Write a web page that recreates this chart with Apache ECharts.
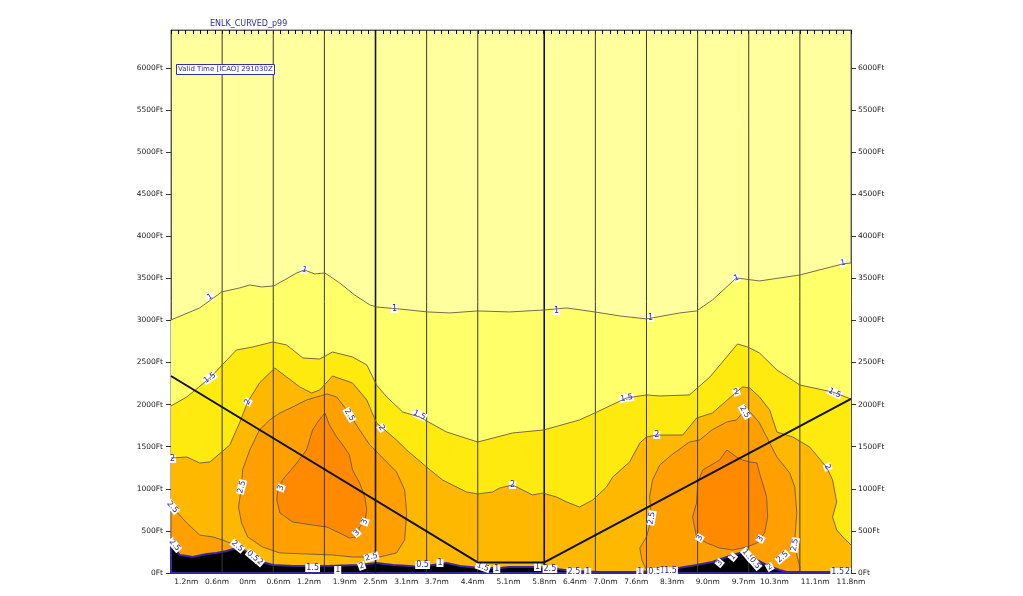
<!DOCTYPE html>
<html><head><meta charset="utf-8">
<script src="https://cdn.jsdelivr.net/npm/echarts@6/dist/echarts.min.js"></script>
<style>html,body{margin:0;padding:0;background:#fff;}#c{width:1023px;height:596px;}</style>
</head><body><div id="c"></div>
<script>
// ---- axis labels ----
const xLabelValues = [-1.2,-0.6,0,0.6,1.2,1.9,2.5,3.1,3.7,4.4,5.1,5.8,6.4,7.0,7.6,8.3,9.0,9.7,10.3,11.1,11.8];
const xLabelTexts = ['1.2nm','0.6nm','0nm','0.6nm','1.2nm','1.9nm','2.5nm','3.1nm','3.7nm','4.4nm','5.1nm','5.8nm','6.4nm','7.0nm','7.6nm','8.3nm','9.0nm','9.7nm','10.3nm','11.1nm','11.8nm'];
const yTickValues = [0,500,1000,1500,2000,2500,3000,3500,4000,4500,5000,5500,6000];
const xMin = -1.5, xMax = 11.8, yMax = 6450;

// ---- contour lines (nm, ft) ----
const contour1 = [[-1.5,3006],[-0.94,3148],[-0.51,3338],[-0.16,3386],[0.04,3421],[0.27,3398],[0.51,3410],[0.72,3481],[0.96,3564],[1.11,3600],[1.31,3552],[1.51,3564],[1.80,3445],[2.09,3303],[2.39,3184],[2.52,3160],[2.97,3136],[3.52,3101],[3.95,3089],[4.50,3113],[5.12,3101],[5.79,3124],[6.24,3148],[6.79,3101],[7.28,3053],[7.80,3018],[8.45,3089],[8.78,3113],[9.09,3243],[9.56,3505],[10.01,3469],[10.80,3540],[11.64,3671],[11.8,3683]];
const contour15 = [[-1.5,1984],[-1.19,2091],[-0.74,2317],[-0.22,2649],[0.10,2685],[0.49,2744],[0.76,2709],[1.08,2554],[1.41,2542],[1.66,2625],[2.05,2566],[2.33,2471],[2.52,2233],[2.72,2091],[3.03,1913],[3.36,1853],[3.89,1675],[4.50,1556],[5.18,1663],[5.79,1699],[6.49,1818],[6.79,1901],[7.41,2079],[7.80,2115],[8.06,2103],[8.64,2115],[9.04,2328],[9.58,2720],[9.78,2685],[10.01,2614],[10.35,2412],[10.80,2233],[11.44,2150],[11.8,2067]];
const contour2 = [[-1.5,1366],[-1.19,1378],[-0.94,1307],[-0.74,1319],[-0.51,1437],[-0.35,1521],[-0.16,1782],[0,2031],[0.23,2257],[0.53,2435],[0.76,2328],[1.02,2210],[1.25,2138],[1.41,2174],[1.66,2340],[2.05,2257],[2.33,2055],[2.52,1782],[2.91,1580],[3.11,1461],[3.50,1259],[3.81,1105],[4.28,962],[4.50,939],[4.79,962],[4.93,1010],[5.18,1045],[5.38,986],[5.57,927],[5.77,950],[6.04,903],[6.24,843],[6.49,784],[6.75,867],[7.02,1022],[7.14,1140],[7.47,1319],[7.67,1544],[7.80,1616],[8.00,1639],[8.51,1639],[8.78,1841],[9.09,1901],[9.56,2150],[9.68,2210],[9.82,2198],[10.01,2091],[10.21,1936],[10.35,1675],[10.66,1616],[10.99,1497],[11.32,1259],[11.44,1105],[11.52,843],[11.44,665],[11.52,511],[11.64,428],[11.8,333]];

// ---- closed contour areas (nm, ft) ----
const blob25Left = [[-1.5,772],[-1.37,713],[-1.19,594],[-0.94,451],[-0.68,428],[-0.49,392],[-0.25,333],[-0.12,297],[0.04,154],[0.04,0],[-1.5,0]];
const blob25Mid = [[0.04,1461],[0.23,1699],[0.43,1818],[0.63,1901],[0.88,1972],[1.15,2055],[1.35,2091],[1.55,2127],[1.74,2091],[1.94,1936],[2.19,1699],[2.39,1521],[2.68,1342],[2.91,1200],[3.07,986],[3.11,713],[3.07,392],[2.91,238],[2.58,190],[2.05,190],[1.66,214],[1.15,226],[0.63,238],[0.29,309],[0,428],[-0.12,594],[-0.18,784],[-0.12,1022],[-0.10,1224]];
const blob25Right = [[7.80,36],[7.71,154],[7.67,297],[7.80,428],[7.90,653],[7.86,903],[7.92,1105],[8.06,1283],[8.29,1402],[8.64,1556],[8.84,1580],[9.08,1699],[9.37,1794],[9.56,1818],[9.68,1901],[9.78,1936],[9.88,1877],[10.01,1782],[10.15,1616],[10.35,1378],[10.60,1188],[10.70,1022],[10.74,713],[10.70,392],[10.74,214],[10.80,71],[10.80,0],[7.80,0]];
const blob3Mid = [[1.51,1901],[1.60,1758],[1.74,1616],[1.86,1521],[1.99,1402],[2.05,1224],[2.19,1069],[2.29,903],[2.33,748],[2.29,606],[2.19,546],[2.13,428],[1.99,416],[1.80,475],[1.55,546],[1.27,570],[0.88,606],[0.63,713],[0.57,867],[0.59,986],[0.68,1105],[0.96,1307],[1.15,1461],[1.27,1699],[1.37,1794]];
const blob3Right = [[9.37,1461],[9.23,1342],[8.90,1224],[8.80,1069],[8.78,832],[8.70,665],[8.78,428],[8.98,356],[9.23,297],[9.49,273],[9.76,309],[9.96,356],[10.11,475],[10.17,665],[10.15,903],[10.07,1069],[10.01,1188],[9.96,1307],[9.82,1319],[9.68,1342],[9.56,1378],[9.43,1437]];

// ---- terrain & flight path ----
const terrain = [[-1.5,360],[-1.33,214],[-1.19,202],[-1.08,190],[-0.80,226],[-0.61,238],[-0.41,261],[-0.22,297],[-0.10,285],[0.10,190],[0.29,131],[0.49,95],[0.88,83],[1.55,83],[2.19,95],[2.52,119],[2.84,95],[3.17,83],[3.36,71],[3.62,95],[3.89,119],[4.15,83],[4.54,59],[4.93,59],[5.12,71],[5.71,71],[6.04,48],[6.36,24],[6.88,12],[7.67,12],[7.92,24],[8.31,48],[8.78,95],[9.09,131],[9.43,202],[9.62,238],[9.76,226],[9.96,154],[10.15,95],[10.40,36],[10.54,12],[11.8,12]];
const flightPath = [[-1.5,2340],[4.5,125],[5.8,125],[11.8,2067]];
const sectionLines = [-0.5,0.5,1.5,2.5,3.5,4.5,5.8,6.8,7.8,8.8,9.8,10.8];
const waypointLines = [2.5,5.8];

// ---- contour labels [nm, ft, text, angle] ----
const contourLabels = [
 [-0.74,3279,'1',30],[1.11,3600,'1',-15],[2.87,3136,'1',0],[6.04,3113,'1',0],[7.88,3029,'1',0],[9.56,3505,'1',20],[11.64,3683,'1',10],
 [-0.74,2317,'1.5',35],[3.36,1877,'1.5',-25],[7.41,2079,'1.5',10],[11.48,2138,'1.5',-25],
 [-1.47,1354,'2',0],[0,2031,'2',60],[2.62,1723,'2',-55],[5.18,1045,'2',0],[8.00,1639,'2',0],[9.56,2150,'2',20],[11.34,1259,'2',-65],
 [-1.47,784,'2.5',-50],[-1.43,333,'2.5',-50],[-0.12,1022,'2.5',75],[1.99,1877,'2.5',-60],[2.42,190,'2.5',15],[7.90,653,'2.5',80],[9.72,1913,'2.5',-60],[10.70,333,'2.5',80],[10.46,190,'2.5',40],
 [0.65,1010,'3',70],[2.13,475,'3',40],[2.29,606,'3',70],[8.84,416,'3',60],[10.03,404,'3',60],
 [1.27,59,'1.5',0],[1.76,36,'1',0],[2.23,83,'2',20],[-0.20,320,'2.5',-40],[0.10,200,'0.5',-40],[0.24,130,'2',-40],
 [3.42,95,'0.5',0],[3.76,119,'1',0],[4.60,71,'1.5',-20],[4.87,48,'1',0],[5.67,71,'1',0],[5.91,48,'2.5',0],
 [6.38,12,'2.5',0],[6.65,12,'1',0],[7.67,12,'1',0],[7.96,12,'0.5',0],[8.12,24,'1',0],[8.27,24,'1.5',0],
 [9.23,119,'3',50],[9.49,190,'1',50],[9.78,214,'1.5',-50],[9.92,119,'0.5',-50],[10.21,71,'2',30],[11.54,12,'1.5',0],[11.73,12,'2',0]
];

// ---- colours ----
const bandColors = ['#FFFF9E','#FFFF6A','#FFEA10','#FFB800','#FFA000','#FF8A00'];
const contourColor = '#6a5a48';

// tick positions for the top/bottom ruler
const rulerTicks = [];
for (let v = xMin; v <= 5.8 + 1e-6; v += 1/7) rulerTicks.push(+v.toFixed(4));
for (let v = 5.8; v <= xMax + 1e-6; v += 1/7) rulerTicks.push(+v.toFixed(4));

function closeDown(line){ return line.concat([[xMax,0],[xMin,0]]); }

function polySeries(polys, fill, stroke, lw){
  return {
    type:'custom', silent:true, xAxisIndex:0, yAxisIndex:0,
    data: polys.map(p => p[0]),
    renderItem: (params, api) => {
      const pts = polys[params.dataIndex].map(p => api.coord(p));
      return {type:'polygon', shape:{points:pts}, style:{fill: fill, stroke: stroke || null, lineWidth: lw || 0}};
    }
  };
}
function lineSeries(line, color, width){
  return {type:'line', silent:true, data: line, symbol:'none', lineStyle:{color:color, width:width}, z:2, animation:false};
}

const chart = echarts.init(document.getElementById('c'), null, {renderer:'canvas'});
const axisFont = {fontFamily:'DejaVu Sans', fontSize:7.5, color:'#222'};

const option = {
  animation:false,
  title:[
    {text:'ENLK_CURVED_p99', left:210, top:20, padding:0, textStyle:{fontFamily:'DejaVu Sans', fontSize:8, fontWeight:'normal', color:'#2a2ab8'}},
    {text:'Valid Time [ICAO] 291030Z', left:176, top:64, padding:[2,2,2,2], borderColor:'#3030b0', borderWidth:1, backgroundColor:'#fff', textStyle:{fontFamily:'DejaVu Sans', fontSize:7, fontWeight:'normal', color:'#2a2ab8'}}
  ],
  grid:{left:171, right:172, top:30, bottom:23, show:true, backgroundColor:bandColors[0], borderColor:'#666', borderWidth:1},
  xAxis:[
    {type:'value', min:xMin, max:xMax, position:'bottom', splitLine:{show:false},
     axisLine:{show:true, onZero:false, lineStyle:{color:'#555'}},
     axisTick:{show:true, inside:true, length:3, customValues:rulerTicks, lineStyle:{color:'#000'}},
     axisLabel:{show:true, margin:5, customValues:xLabelValues, ...axisFont,
       formatter:(v)=>{ const i = xLabelValues.findIndex(a=>Math.abs(a-v)<1e-6); return i>=0 ? xLabelTexts[i] : ''; }}},
    {type:'value', min:xMin, max:xMax, position:'top', splitLine:{show:false},
     axisLine:{show:true, onZero:false, lineStyle:{color:'#555'}},
     axisTick:{show:true, inside:true, length:4, customValues:rulerTicks, lineStyle:{color:'#000'}},
     axisLabel:{show:false}}
  ],
  yAxis:[
    {type:'value', min:0, max:yMax, position:'left', splitLine:{show:false},
     axisLine:{show:true, onZero:false, lineStyle:{color:'#555'}},
     axisTick:{show:true, length:5, customValues:yTickValues, lineStyle:{color:'#333'}},
     axisLabel:{margin:8, customValues:yTickValues, formatter:(v)=>v+'Ft', ...axisFont}},
    {type:'value', min:0, max:yMax, position:'right', splitLine:{show:false},
     axisLine:{show:true, onZero:false, lineStyle:{color:'#555'}},
     axisTick:{show:true, length:5, customValues:yTickValues, lineStyle:{color:'#333'}},
     axisLabel:{margin:7, customValues:yTickValues, formatter:(v)=>v+'Ft', ...axisFont}}
  ],
  series:[
    polySeries([closeDown(contour1)], bandColors[1]),
    lineSeries(contour1, contourColor, 0.9),
    polySeries([closeDown(contour15)], bandColors[2]),
    lineSeries(contour15, contourColor, 0.9),
    polySeries([closeDown(contour2)], bandColors[3]),
    lineSeries(contour2, contourColor, 0.9),
    polySeries([blob25Left, blob25Mid, blob25Right], bandColors[4], contourColor, 0.9),
    polySeries([blob3Mid, blob3Right], bandColors[5], contourColor, 0.9),
    polySeries([terrain.concat([[xMax,0],[xMin,0]])], '#000', '#3426a8', 2),
    {type:'custom', silent:true, data: sectionLines.map(v=>[v,0]),
     renderItem:(params, api)=>{
       const v = sectionLines[params.dataIndex];
       const a = api.coord([v,0]), b = api.coord([v,yMax]);
       const thick = waypointLines.indexOf(v) >= 0;
       return {type:'line', shape:{x1:a[0], y1:a[1], x2:b[0], y2:b[1]}, style:{stroke: thick ? '#111' : '#3c3a2c', lineWidth: thick ? 1.6 : 1}};
     }},
    lineSeries(flightPath, '#111', 2),
    {type:'custom', silent:true, data: contourLabels.map(l=>[l[0], l[1]]),
     renderItem:(params, api)=>{
       const l = contourLabels[params.dataIndex];
       const p = api.coord([l[0], l[1]]);
       return {type:'text', x:p[0], y:p[1], rotation: l[3]*Math.PI/180,
         style:{text:l[2], fill:'#2424b0', font:'8px "DejaVu Sans"', align:'center', verticalAlign:'middle', backgroundColor:'#fff', padding:[0,1]}};
     }}
  ]
};
chart.setOption(option);
</script>
</body></html>
